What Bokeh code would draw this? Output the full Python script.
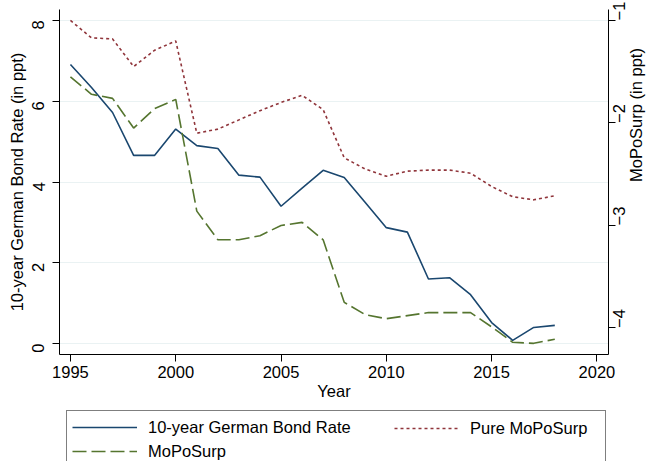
import math
from bokeh.plotting import figure
from bokeh.layouts import column
from bokeh.models import Range1d, LinearAxis, FixedTicker, Legend, LegendItem
from bokeh.embed import file_html
from bokeh.resources import INLINE

years = list(range(1995, 2019))
bond_rate = [6.91, 6.34, 5.72, 4.66, 4.66, 5.31, 4.90, 4.83, 4.17, 4.12, 3.40, 3.85,
             4.29, 4.11, 3.49, 2.87, 2.76, 1.60, 1.63, 1.21, 0.52, 0.08, 0.40, 0.45]
pure_moposurp = [-1.00, -1.17, -1.18, -1.45, -1.29, -1.20, -2.10, -2.06, -1.97, -1.88, -1.80, -1.73,
                 -1.87, -2.34, -2.45, -2.52, -2.47, -2.46, -2.46, -2.49, -2.62, -2.72, -2.75, -2.71]
moposurp = [-1.55, -1.72, -1.76, -2.05, -1.86, -1.77, -2.86, -3.14, -3.14, -3.10, -3.00, -2.97,
            -3.14, -3.75, -3.87, -3.91, -3.88, -3.85, -3.85, -3.85, -3.99, -4.14, -4.15, -4.11]

x_ticks = [1995, 2000, 2005, 2010, 2015, 2020]
left_ticks = [0, 2, 4, 6, 8]
right_ticks = [-4, -3, -2, -1]
labels = ["10-year German Bond Rate", "Pure MoPoSurp", "MoPoSurp"]

FONT = "Liberation Sans"
FS = "16.5px"
COLORS = ["#1a476f", "#90353b", "#55752f"]
DASHES = ["solid", "3 3", "14 5"]

p = figure(width=656, height=405, output_backend="svg", toolbar_location=None,
           x_range=Range1d(1994.48, 2020.55), y_range=Range1d(-0.27, 8.27),
           min_border_left=59, min_border_right=45, min_border_top=9, min_border_bottom=51,
           background_fill_color="white", border_fill_color="white")
p.outline_line_color = None
p.extra_y_ranges = {"r": Range1d(-4.259, -0.893)}

p.xgrid.visible = False
p.ygrid.ticker = FixedTicker(ticks=left_ticks)
p.ygrid.grid_line_color = "#eaf2f3"
p.ygrid.grid_line_width = 1

raxis = LinearAxis(y_range_name="r", axis_label="MoPoSurp (in ppt)")
p.add_layout(raxis, "right")

p.xaxis.axis_label = "Year"
p.yaxis[0].axis_label = "10-year German Bond Rate (in ppt)"
p.xaxis.ticker = FixedTicker(ticks=x_ticks)
p.yaxis[0].ticker = FixedTicker(ticks=left_ticks)
raxis.ticker = FixedTicker(ticks=right_ticks)

for ax in [p.xaxis[0], p.yaxis[0], raxis]:
    ax.axis_line_color = "black"
    ax.major_tick_line_color = "black"
    ax.minor_tick_line_color = None
    ax.major_tick_out = 7
    ax.major_tick_in = 0
    ax.major_label_text_font = FONT
    ax.major_label_text_font_size = FS
    ax.major_label_text_color = "black"
    ax.axis_label_text_font = FONT
    ax.axis_label_text_font_size = FS
    ax.axis_label_text_font_style = "normal"
    ax.axis_label_text_color = "black"

p.xaxis.major_label_standoff = 4
p.xaxis.axis_label_standoff = 1

ly = p.yaxis[0]
ly.major_label_orientation = math.pi / 2
ly.major_label_standoff = 14
ly.axis_label_standoff = -2

raxis.major_label_orientation = math.pi / 2
raxis.major_label_standoff = 4
raxis.axis_label_standoff = 1
raxis.axis_label_orientation = math.pi / 2
raxis.major_label_text_line_height = 1.0
raxis.axis_label_text_line_height = 1.0

r1 = p.line(years, bond_rate, line_color=COLORS[0], line_width=1.6, line_dash=DASHES[0])
r2 = p.line(years, pure_moposurp, line_color=COLORS[1], line_width=1.6, line_dash=DASHES[1], y_range_name="r")
r3 = p.line(years, moposurp, line_color=COLORS[2], line_width=1.6, line_dash=DASHES[2], y_range_name="r")

# legend strip below the chart (hidden copies of the series supply the legend keys)
q = figure(width=656, height=56, output_backend="svg", toolbar_location=None,
           x_axis_type=None, y_axis_type=None,
           min_border=0, min_border_left=0, min_border_right=0, min_border_top=0, min_border_bottom=0,
           background_fill_color="white", border_fill_color="white")
q.outline_line_color = None
q.grid.visible = False
k1 = q.line(years, bond_rate, line_color=COLORS[0], line_width=1.6, line_dash=DASHES[0], visible=False)
k2 = q.line(years, pure_moposurp, line_color=COLORS[1], line_width=1.6, line_dash=DASHES[1], visible=False)
k3 = q.line(years, moposurp, line_color=COLORS[2], line_width=1.6, line_dash=DASHES[2], visible=False)

common = dict(label_text_font=FONT, label_text_font_size=FS, label_text_color="black",
              glyph_width=65, glyph_height=22, label_height=22, label_standoff=11,
              spacing=2, padding=5, margin=0, inactive_fill_alpha=0)
# the legend strip's frame lines up with the chart's frame (left edge at x=59)
legA = Legend(items=[LegendItem(label=labels[0], renderers=[k1]),
                     LegendItem(label=labels[2], renderers=[k3])],
              location=(7, -7), orientation="vertical", label_width=452,
              border_line_color="black", border_line_width=1,
              background_fill_color="white", **common)
legB = Legend(items=[LegendItem(label=labels[1], renderers=[k2])],
              location=(330, 17), orientation="vertical",
              border_line_alpha=0, background_fill_alpha=0, **common)
q.add_layout(legA, "center")
q.add_layout(legB, "center")

layout = column(p, q, spacing=0)
open("out.html", "w").write(file_html(layout, INLINE))
